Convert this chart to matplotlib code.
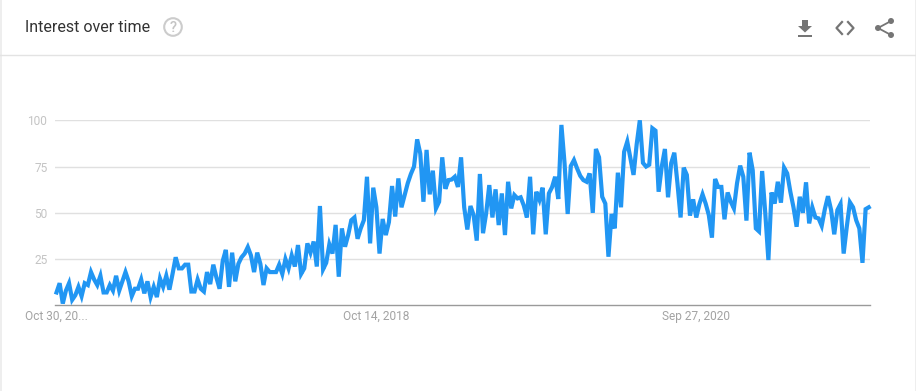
import matplotlib
matplotlib.use('Agg')
import matplotlib.pyplot as plt
import numpy as np
from matplotlib.patches import Circle, Polygon, Rectangle

plt.rcParams['font.family'] = ['Roboto', 'DejaVu Sans']

# values, one per week
interest = [
    7, 12, 1, 8, 12, 3, 5.5, 10, 5, 12,
    11, 18, 14, 11, 16, 7, 7, 11, 8, 16,
    8, 13, 18, 13, 5, 9, 9, 14, 6.5, 13,
    4.5, 10, 4.5, 14.5, 10, 16, 8.5, 17, 26, 20,
    20, 22, 22, 7.5, 7.5, 14, 9, 7.5, 18, 11.5,
    22, 15, 9, 24, 30, 10, 28.5, 13, 22.5, 26,
    28, 31.5, 27, 18, 28.5, 22.5, 11, 20, 18, 18,
    18, 22, 17, 25, 20, 27, 21, 32.6, 17, 20,
    33.5, 28.5, 34.5, 21, 53.7, 19.5, 23, 33, 28, 43.5,
    15.5, 41.6, 31.7, 38, 46, 47.5, 36, 41.6, 46, 69.5,
    33.5, 63.6, 53, 28, 46.7, 38, 45, 64.5, 48, 68.6,
    53, 59.6, 66, 71, 75, 89.7, 82, 56, 84, 60,
    72.8, 52.4, 56, 80, 63, 67.7, 68, 69.5, 64, 80,
    53, 41, 53.7, 48.8, 35, 71, 39, 49.7, 65, 47.5,
    62.7, 43.4, 60.5, 38, 66.8, 52.4, 59.6, 57.8, 58.4, 54,
    47.5, 69.5, 38.4, 61.4, 57, 63.6, 38.4, 60.5, 63.8, 69.5,
    57.5, 97.5, 76.8, 49.4, 75.3, 78.5, 74, 70, 67.7, 66.8,
    71.3, 50, 84.5, 80, 58.7, 55, 26.3, 49.4, 41.6, 71.7,
    53, 83, 88.5, 79.5, 70.5, 87, 100, 77, 75, 76,
    95.7, 94.4, 61.4, 75, 84.5, 58.4, 76.8, 82.5, 66, 47.5,
    74.4, 70.5, 48.5, 57.3, 47.5, 54.8, 60, 55, 48.8, 36.6,
    68.3, 64, 64, 46.5, 61, 56, 52.4, 66, 75.5, 69.5,
    45.8, 82.5, 73, 41.6, 40, 72.6, 50, 24.5, 61, 55,
    66.8, 55.5, 74.4, 71.3, 61.4, 53, 42.5, 58.7, 50, 66.5,
    44.3, 53, 47.5, 47, 43, 52, 59, 51.5, 38.4, 51.5,
    54.8, 28, 42.5, 55.7, 53, 46, 41.6, 23, 52, 53,
]
y_ticks = [25, 50, 75, 100]
x_tick_weeks = [0, 102, 204]
x_tick_labels = ['Oct 30, 20...', 'Oct 14, 2018', 'Sep 27, 2020']

W, H = 916, 391
fig = plt.figure(figsize=(W / 100, H / 100), dpi=100, facecolor='white')

# chart
ax = fig.add_axes([55 / W, 1 - 305.4 / H, 815 / W, 185.1 / H])
weeks = np.arange(len(interest))
ax.plot(weeks, interest, color='#2196f3', lw=3, clip_on=False,
        solid_joinstyle='miter', zorder=3)
ax.set_xlim(-0.48, 259.4)
ax.set_ylim(0, 100)
ax.set_yticks(y_ticks)
ax.set_xticks(x_tick_weeks)
ax.set_xticklabels(x_tick_labels)
ax.tick_params(axis='y', length=0, pad=5.5, labelsize=8.6, labelcolor='#c4c4c4')
ax.tick_params(axis='x', length=0, pad=3, labelsize=8.6, labelcolor='#a3a3a3')
ax.grid(axis='y', color='#e0e0e0', lw=1)
ax.set_axisbelow(True)
for s in ['top', 'left', 'right']:
    ax.spines[s].set_visible(False)
ax.spines['bottom'].set_color('#9a9a9a')
ax.spines['bottom'].set_linewidth(1)

# header and icons, in pixel coordinates
bg = fig.add_axes([0, 0, 1, 1], zorder=-1)
bg.set_xlim(0, W)
bg.set_ylim(H, 0)
bg.axis('off')
bg.add_patch(Rectangle((0, 0), 1.5, H, color='#eeeeee', lw=0))
bg.add_patch(Rectangle((W - 1, 0), 1, H, color='#eeeeee', lw=0))
bg.plot([0, W], [55, 55], color='#e3e3e3', lw=1)
bg.text(25, 28, 'Interest over time', fontsize=11.5, color='#333333', va='center')

bg.add_patch(Circle((173, 27), 8.8, fc='none', ec='#cccccc', lw=1.5))
bg.text(173, 27.5, '?', fontsize=10.5, color='#c4c4c4', ha='center', va='center',
        fontweight='medium')

icon = '#757575'
bg.add_patch(Polygon([(802, 20), (808, 20), (808, 26), (812, 26), (805, 32.5),
                      (798, 26), (802, 26)], fc=icon, ec='none'))
bg.add_patch(Rectangle((798, 34.5), 14, 2, fc=icon, ec='none'))
bg.plot([842, 836.5, 842], [22, 28, 34], color=icon, lw=1.6)
bg.plot([848, 853.5, 848], [22, 28, 34], color=icon, lw=1.6)
bg.plot([891, 878, 891], [21, 28, 35], color=icon, lw=1.3)
for cx, cy, r in [(891, 21, 3), (878, 28, 3), (891, 35, 3)]:
    bg.add_patch(Circle((cx, cy), r, fc=icon, ec='none'))

fig.savefig('out.png', dpi=100)
